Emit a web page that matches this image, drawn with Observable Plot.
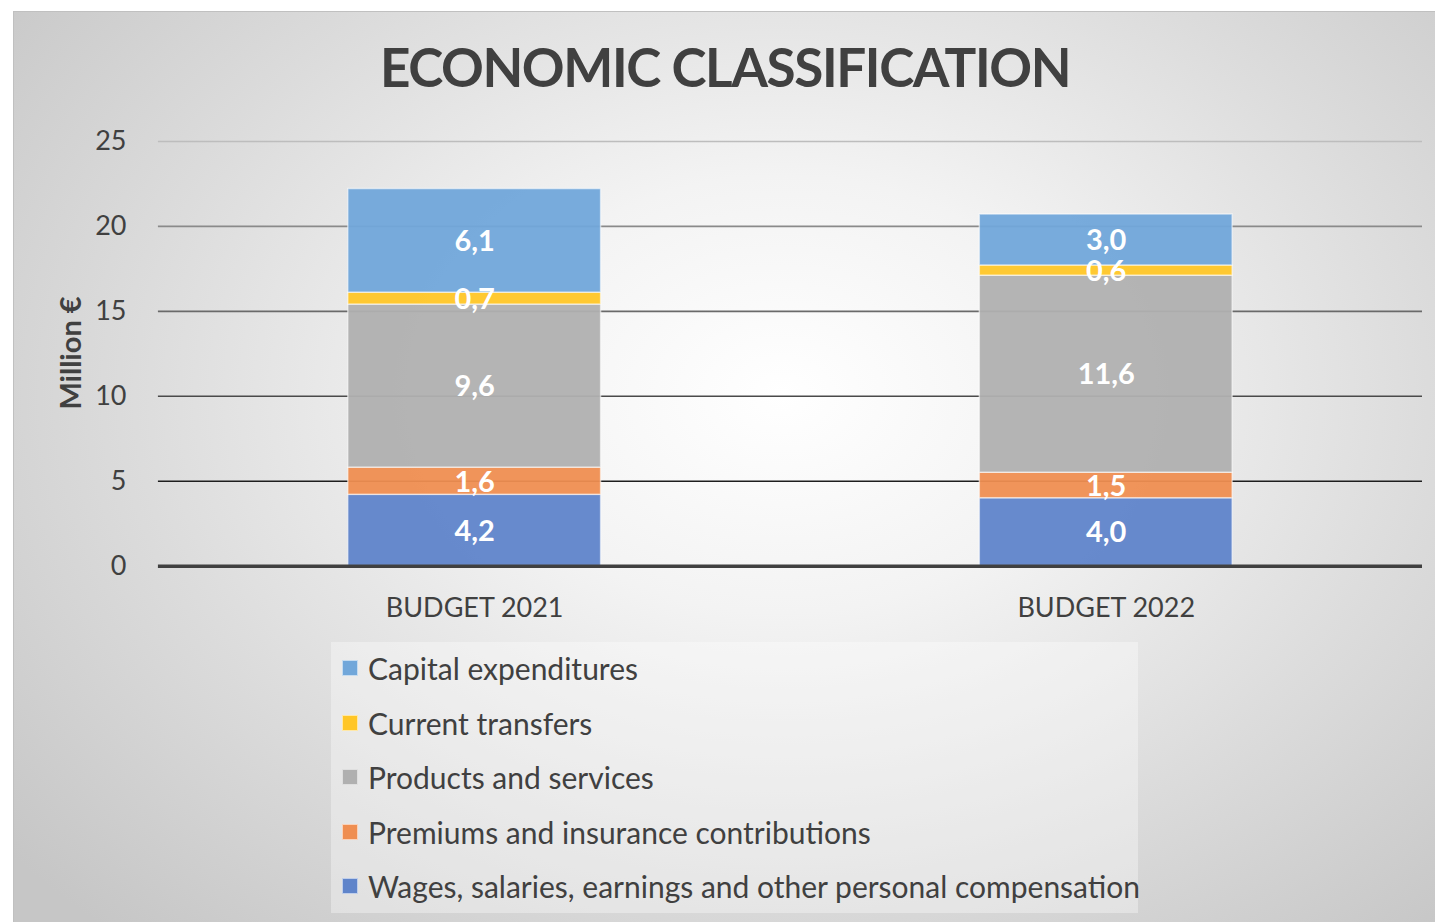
<!DOCTYPE html>
<html>
<head>
<meta charset="utf-8">
<script src="https://cdn.jsdelivr.net/npm/d3@7"></script>
<script src="https://cdn.jsdelivr.net/npm/@observablehq/plot@0.6"></script>
<style>
  html, body { margin: 0; padding: 0; background: #ffffff; }
  body { width: 1435px; height: 922px; position: relative; overflow: hidden; font-family: Lato, "Open Sans", sans-serif; }
  #chart {
    position: absolute; left: 13px; top: 11px; width: 1422px; height: 911px;
    background: radial-gradient(ellipse 70% 80% at 54% 42%, #ffffff 0%, #f3f3f3 30%, #dcdcdc 65%, #c6c6c6 100%);
    border-top: 1px solid #c0c0c0; border-left: 1px solid #c0c0c0; box-sizing: border-box;
  }
  #title {
    position: absolute; left: 0; width: 1422px; top: 23px; text-align: center;
    font-family: Lato, sans-serif; font-weight: 700; font-size: 53px; color: #404040; letter-spacing: -1.4px;
  }
  #ylabel {
    position: absolute; left: 55px; top: 341px; width: 0; height: 0;
  }
  #ylabel span {
    position: absolute; transform: translate(-50%, -50%) rotate(-90deg); white-space: nowrap;
    font-weight: 700; font-size: 29px; color: #404040;
  }
  #plot { position: absolute; left: 0; top: 89px; }
  #legend {
    position: absolute; left: 317px; top: 630px; width: 807px; height: 271px;
    background: rgba(255,255,255,0.35);
  }
  .lg { position: absolute; left: 11px; height: 30px; display: flex; align-items: center; font-size: 30px; color: #404040; white-space: nowrap; }
  .lg i { display: inline-block; width: 16px; height: 16px; margin-right: 10px; box-sizing: border-box; border: 1px solid rgba(255,255,255,0.6); }
</style>
</head>
<body>
<div id="chart">
  <div id="title">ECONOMIC CLASSIFICATION</div>
  <div id="ylabel"><span>Million €</span></div>
  <div id="plot"></div>
  <div id="legend"></div>
</div>
<script>
// ---- data ----
const budgets = ["BUDGET 2021", "BUDGET 2022"];
// stacking order, bottom to top
const series = [
  "Wages, salaries, earnings and other personal compensation",
  "Premiums and insurance contributions",
  "Products and services",
  "Current transfers",
  "Capital expenditures"
];
const budget2021 = [4.2, 1.6, 9.6, 0.7, 6.1];
const budget2022 = [4.0, 1.5, 11.6, 0.6, 3.0];
const colors = ["#5f84ca", "#ef8e51", "#b0b0b0", "#ffc627", "#71a7da"];
const yTicks = [0, 5, 10, 15, 20, 25];
const gridColors = ["#404040", "#1e1e1e", "#4a4a4a", "#6a6a6a", "#8a8a8a", "#bdbdbd"];

// ---- table ----
const rows = [];
[budget2021, budget2022].forEach((vals, bi) => {
  let acc = 0;
  vals.forEach((v, si) => {
    rows.push({budget: budgets[bi], series: series[si], value: v, mid: acc + v / 2});
    acc += v;
  });
});

const fmt = v => v.toFixed(1).replace(".", ",");

const gridMarks = yTicks.slice(1).map((t, i) =>
  Plot.ruleY([t], {stroke: gridColors[i + 1], strokeWidth: 1.6})
);

const chart = Plot.plot({
  width: 1422,
  height: 540,
  marginLeft: 144,
  marginRight: 13,
  marginTop: 40,
  marginBottom: 75,
  style: {background: "transparent", fontFamily: "Lato, 'Open Sans', sans-serif"},
  x: {domain: budgets, paddingInner: 0.6, paddingOuter: 0.3, label: null},
  y: {domain: [0, 25], label: null},
  color: {domain: series, range: colors},
  marks: [
    ...gridMarks,
    Plot.barY(rows, Plot.stackY({x: "budget", y: "value", fill: "series", order: series, fillOpacity: 0.95, stroke: "#ffffff", strokeOpacity: 0.55, strokeWidth: 1.5, inset: 0})),
    Plot.ruleY([0], {stroke: gridColors[0], strokeWidth: 3.5}),
    Plot.text(rows, {x: "budget", y: "mid", text: d => fmt(d.value), fill: "white", fontWeight: "bold", fontSize: 29, dy: 1}),
    Plot.axisY(yTicks, {tickSize: 0, tickPadding: 32, fontSize: 27, fill: "#404040", tickFormat: d => d}),
    Plot.axisX({tickSize: 0, tickPadding: 32, fontSize: 27, fill: "#404040"})
  ]
});
document.getElementById("plot").appendChild(chart);

// ---- legend (top to bottom as in the reference) ----
const legend = document.getElementById("legend");
const legendOrder = series.slice().reverse();
const legendTops = [11, 66, 120, 175, 229];
legendOrder.forEach((s, i) => {
  const div = document.createElement("div");
  div.className = "lg";
  div.style.top = legendTops[i] + "px";
  const sw = document.createElement("i");
  sw.style.background = colors[series.indexOf(s)];
  div.appendChild(sw);
  div.appendChild(document.createTextNode(s));
  legend.appendChild(div);
});
</script>
</body>
</html>
